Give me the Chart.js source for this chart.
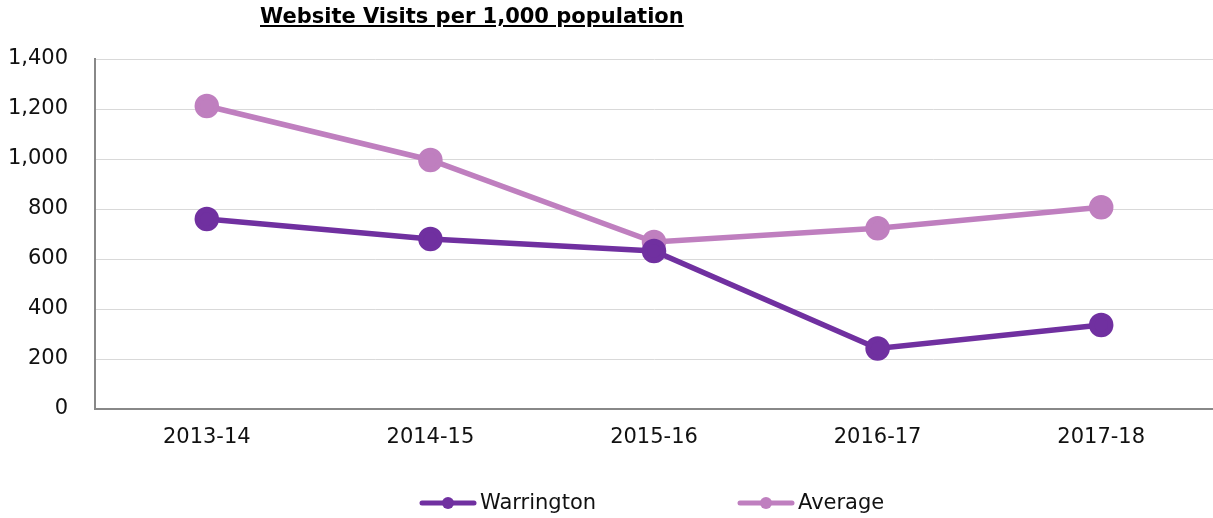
<!DOCTYPE html>
<html>
<head>
<meta charset="utf-8">
<script src="https://cdn.jsdelivr.net/npm/chart.js@4"></script>
<style>
  html, body { margin: 0; padding: 0; background: #fff; overflow: hidden; }
  #wrap { position: relative; width: 1213px; height: 518px; }
  #chart { display: block; }
  #title {
    position: absolute; left: 260px; top: 4px;
    font-family: "DejaVu Sans", Verdana, sans-serif;
    font-weight: bold; font-size: 21px; text-decoration: underline;
    color: #000; white-space: nowrap;
  }
</style>
</head>
<body>
<div id="wrap">
  <canvas id="chart" width="1213" height="518"></canvas>
  <div id="title">Website Visits per 1,000 population</div>
</div>
<script>
const categories = ['2013-14', '2014-15', '2015-16', '2016-17', '2017-18'];
const warrington = [760, 680, 632, 242, 336];
const average = [1212, 996, 668, 723, 807];
const seriesColors = ['#7030A0', '#BF7FBF'];

const FONT = '"DejaVu Sans", Verdana, sans-serif';

// legend drawn under the axis: line with a dot, then the name
const bottomLegend = {
  id: 'bottomLegend',
  afterDraw(chart) {
    const ctx = chart.ctx;
    const spots = [420, 738];
    const y = 503;
    ctx.save();
    chart.data.datasets.forEach((ds, i) => {
      const x = spots[i];
      ctx.strokeStyle = ds.borderColor;
      ctx.lineWidth = 5;
      ctx.lineCap = 'round';
      ctx.beginPath();
      ctx.moveTo(x + 2, y);
      ctx.lineTo(x + 54, y);
      ctx.stroke();
      ctx.fillStyle = ds.backgroundColor;
      ctx.beginPath();
      ctx.arc(x + 28, y, 6, 0, Math.PI * 2);
      ctx.fill();
      ctx.fillStyle = '#111';
      ctx.font = '21px ' + FONT;
      ctx.textBaseline = 'middle';
      ctx.fillText(ds.label, x + 60, y + 1);
    });
    ctx.restore();
  }
};

new Chart(document.getElementById('chart'), {
  type: 'line',
  data: {
    labels: categories,
    datasets: [
      {
        label: 'Warrington',
        data: warrington,
        borderColor: seriesColors[0],
        backgroundColor: seriesColors[0],
        borderWidth: 5.5,
        pointRadius: 9.5,
        pointHoverRadius: 9.5,
        tension: 0
      },
      {
        label: 'Average',
        data: average,
        borderColor: seriesColors[1],
        backgroundColor: seriesColors[1],
        borderWidth: 5.5,
        pointRadius: 9.5,
        pointHoverRadius: 9.5,
        tension: 0
      }
    ]
  },
  options: {
    responsive: false,
    animation: false,
    layout: { autoPadding: false, padding: { top: 59, right: 0, left: 0, bottom: 0 } },
    plugins: {
      legend: { display: false },
      tooltip: { enabled: false }
    },
    scales: {
      x: {
        offset: true,
        grid: { display: false, drawTicks: false, offset: true },
        border: { display: true, color: '#888888', width: 2 },
        ticks: { color: '#111', font: { family: FONT, size: 21 }, padding: 16, maxRotation: 0 },
        afterFit: s => { s.height = 109; }
      },
      y: {
        min: 0,
        max: 1400,
        grid: { color: '#d9d9d9', lineWidth: 1, drawTicks: false },
        border: { display: true, color: '#888888', width: 2 },
        ticks: {
          stepSize: 200,
          color: '#111',
          font: { family: FONT, size: 21 },
          padding: 27,
          callback: v => v.toLocaleString('en-US')
        },
        afterFit: s => { s.width = 95; }
      }
    }
  },
  plugins: [bottomLegend]
});
</script>
</body>
</html>
